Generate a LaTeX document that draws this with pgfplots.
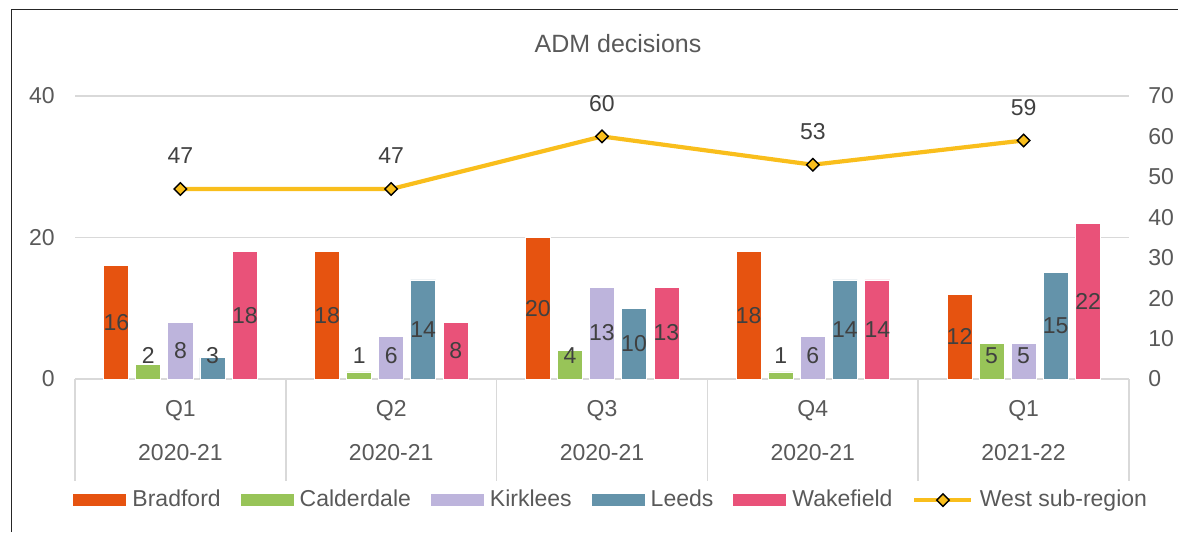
\documentclass[border=0pt]{standalone}
\usepackage{fontspec}
\setmainfont{Liberation Sans}
\usepackage{pgfplots}
\usepackage{pgfplotstable}
\pgfplotsset{compat=1.18}

\definecolor{bradford}{HTML}{E65310}
\definecolor{calder}{HTML}{98C458}
\definecolor{kirk}{HTML}{BDB4DC}
\definecolor{leeds}{HTML}{6493AA}
\definecolor{wake}{HTML}{E95279}
\definecolor{westline}{HTML}{F9BE1C}
\definecolor{gridgray}{HTML}{D9D9D9}
\definecolor{ticktext}{HTML}{595959}
\definecolor{labtext}{HTML}{404040}

% quarter, one column per council, West = sub-region total (right axis)
\pgfplotstableread{
x  brad cald kirk leeds wake west
0  16   2    8    3     18   47
1  18   1    6    14    8    47
2  20   4    13   10    13   60
3  18   1    6    14    14   53
4  12   5    5    15    22   59
}\adm

\newcommand\lab{\fontsize{11.5}{13.8}\selectfont}

\pgfplotsset{
  /pgf/number format/assume math mode=true,
  legpatch/.style={legend image code/.code={\fill[#1] (0pt,-2.75pt) rectangle (26pt,2.75pt);}},
  barstyle/.style={ybar, bar width=12.5pt, bar shift=0pt, fill=#1, draw=white, line width=0.4pt, legpatch=#1},
  barlab/.style={draw=none, mark=none, forget plot, nodes near coords, point meta=explicit,
    every node near coord/.style={anchor=center, font=\lab, text=labtext, inner sep=0pt}},
  westplot/.style={westline, line width=2.1pt, mark=square*, mark size=2.2pt,
    mark options={rotate=45, fill=westline, draw=black, line width=0.7pt}},
  westleg/.style={westplot,
    legend image code/.code={\draw[##1, mark repeat=2, mark phase=2] plot coordinates {(0pt,0pt) (14.25pt,0pt) (28.5pt,0pt)};}},
}

\begin{document}
\begin{tikzpicture}
\path[use as bounding box] (0pt,0pt) rectangle (589pt,266pt);
\draw[black!85, line width=0.6pt] (5.75pt,0pt) -- (5.75pt,261.25pt) -- (589pt,261.25pt);
\node[text=ticktext, font=\fontsize{12.5}{15}\selectfont] at (309pt,244pt) {ADM decisions};

\begin{axis}[
  at={(37.5pt,76.5pt)}, anchor=south west,
  scale only axis, width=527pt, height=141.5pt,
  xmin=-0.5, xmax=4.5, ymin=0, ymax=40,
  ytick={0,20,40},
  xtick={0,...,4},
  xticklabels={Q1,Q2,Q3,Q4,Q1},
  extra x ticks={0,...,4},
  extra x tick labels={2020-21,2020-21,2020-21,2020-21,2021-22},
  extra x tick style={xticklabel style={yshift=-22pt}},
  axis line style={draw=none},
  tick style={draw=none}, major tick length=0pt,
  ymajorgrids, grid style={gridgray, line width=0.8pt},
  tick label style={font=\lab, text=ticktext},
  yticklabel style={anchor=east, inner sep=0pt, xshift=-10pt},
  xticklabel style={anchor=base, inner sep=0pt, yshift=-18.5pt},
  clip=false,
  legend columns=6,
  legend cell align=left,
  legend style={at={(-0.002,-0.428)}, anchor=west, draw=none, fill=none,
    inner sep=0pt, font=\lab, text=ticktext, nodes={inner sep=0pt},
    /tikz/every odd column/.append style={column sep=3.2pt},
    /tikz/every even column/.append style={column sep=9.9pt}},
]
\addplot[barstyle=bradford] table[x expr=\thisrow{x}-0.304, y=brad]{\adm};
\addlegendentry{Bradford}
\addplot[barstyle=calder] table[x expr=\thisrow{x}-0.152, y=cald]{\adm};
\addlegendentry{Calderdale}
\addplot[barstyle=kirk] table[x expr=\thisrow{x}, y=kirk]{\adm};
\addlegendentry{Kirklees}
\addplot[barstyle=leeds] table[x expr=\thisrow{x}+0.152, y=leeds]{\adm};
\addlegendentry{Leeds}
\addplot[barstyle=wake] table[x expr=\thisrow{x}+0.306, y=wake]{\adm};
\addlegendentry{Wakefield}

% value labels: centred in the bar, but not lower than about 3.3
\addplot[barlab] table[x expr=\thisrow{x}-0.304, y expr={max(\thisrow{brad}/2,3.3)}, meta=brad]{\adm};
\addplot[barlab] table[x expr=\thisrow{x}-0.152, y expr={max(\thisrow{cald}/2,3.3)}, meta=cald]{\adm};
\addplot[barlab] table[x expr=\thisrow{x}, y expr={max(\thisrow{kirk}/2,3.3)}, meta=kirk]{\adm};
\addplot[barlab] table[x expr=\thisrow{x}+0.152, y expr={max(\thisrow{leeds}/2,3.3)}, meta=leeds]{\adm};
\addplot[barlab] table[x expr=\thisrow{x}+0.306, y expr={max(\thisrow{wake}/2,3.3)}, meta=wake]{\adm};

\addlegendimage{westleg}
\addlegendentry{West sub-region}

\pgfplotsinvokeforeach{-0.5,0.5,1.5,2.5,3.5,4.5}{
  \draw[gridgray, line width=0.8pt] (axis cs:#1,0) -- ++(0pt,-51pt);
}
\end{axis}

\begin{axis}[
  at={(37.5pt,76.5pt)}, anchor=south west,
  scale only axis, width=527pt, height=141.5pt,
  xmin=-0.5, xmax=4.5, ymin=0, ymax=70,
  hide x axis, axis y line*=right,
  axis line style={draw=none}, tick style={draw=none}, major tick length=0pt,
  ytick={0,10,...,70},
  yticklabel style={anchor=west, inner sep=0pt, xshift=9.5pt, font=\lab, text=ticktext},
  clip=false,
]
\addplot[westplot, nodes near coords, point meta=explicit,
  every node near coord/.style={anchor=center, yshift=16.5pt, font=\lab, text=labtext}]
  table[x=x, y=west, meta=west]{\adm};
\end{axis}
\end{tikzpicture}
\end{document}
